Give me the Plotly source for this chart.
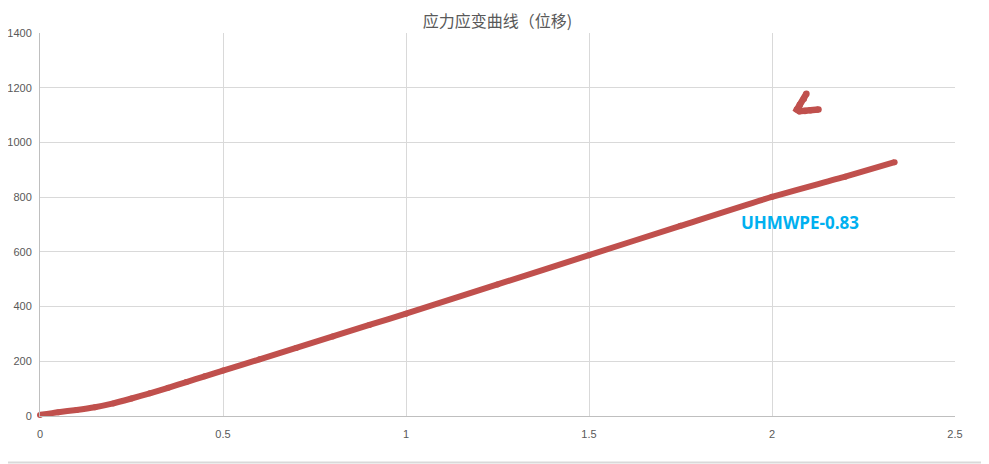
import plotly.graph_objects as go

title_text = "应力应变曲线（位移)"
series_name = "UHMWPE-0.83"

strain = [0, 0.05, 0.1, 0.15, 0.2, 0.25, 0.3, 0.35, 0.4, 0.45, 0.5, 0.6, 0.7, 0.8, 0.9,
          1.0, 1.25, 1.5, 1.75, 2.0, 2.2, 2.335]
stress = [4, 14, 22, 32, 46, 64, 83, 103, 124, 145, 166, 207, 249, 291, 333,
          374, 481, 588, 695, 801, 875, 928]

stray_x = [2.094, 2.087, 2.076, 2.068, 2.075, 2.09, 2.105, 2.127]
stray_y = [1178, 1160, 1138, 1120, 1114, 1115, 1118, 1120]

red = "#C0504D"
fig = go.Figure()
fig.add_trace(go.Scatter(x=strain, y=stress, mode="lines+markers",
                         line=dict(color=red, width=6, shape="spline", smoothing=0.6),
                         marker=dict(color=red, size=6), name=series_name,
                         showlegend=False, hoverinfo="skip", cliponaxis=False))
fig.add_trace(go.Scatter(x=stray_x, y=stray_y, mode="lines+markers",
                         line=dict(color=red, width=6.5),
                         marker=dict(color=red, size=6.5),
                         showlegend=False, hoverinfo="skip"))

fig.add_annotation(x=2.077, y=706, text="<b>" + series_name + "</b>", showarrow=False,
                   font=dict(family="Open Sans", size=17, color="#00B0F0"))

# page renders with an 8px body offset, so the figure is 8px smaller and margins shifted
W, H = 981, 456
ml, mr, mt, mb = 32, 34, 25, 48
pw, ph = W - ml - mr, H - mt - mb
fig.add_shape(type="rect", xref="paper", yref="paper",
              x0=-(ml + 20) / pw, x1=1 + (mr - 4) / pw,
              y0=-(mb - 1.5) / ph, y1=1 + (mt + 20) / ph,
              line=dict(color="#D9D9D9", width=2), layer="below")

fig.update_layout(
    width=W, height=H,
    margin=dict(l=ml, r=mr, t=mt, b=mb, autoexpand=False),
    paper_bgcolor="white", plot_bgcolor="white",
    title=dict(text=title_text, x=(ml + pw / 2) / W, xanchor="center", y=1 - 13.5 / H, yanchor="middle",
               font=dict(family="Noto Sans CJK SC", size=16, color="#595959"), automargin=False),
    xaxis=dict(range=[0, 2.5], dtick=0.5, tick0=0, showgrid=True, gridcolor="#D9D9D9", gridwidth=1,
               zeroline=False, showline=True, linecolor="#BFBFBF", linewidth=1, automargin=False,
               ticks="", tickfont=dict(family="Liberation Sans", size=11, color="#595959"),
               ticklabelstandoff=8),
    yaxis=dict(range=[0, 1400], dtick=200, tick0=0, showgrid=True, gridcolor="#D9D9D9", gridwidth=1,
               zeroline=False, showline=True, linecolor="#BFBFBF", linewidth=1, automargin=False,
               ticks="", tickfont=dict(family="Liberation Sans", size=11, color="#595959"),
               ticklabelstandoff=5),
)
fig.write_html("out.html")
